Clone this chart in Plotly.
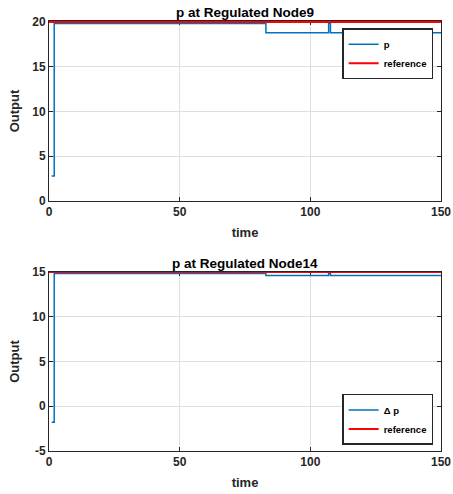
import plotly.graph_objects as go

# Data
t_p9 = [1, 2, 83, 107, 107.7, 150]
p_p9 = [2.8, 19.83, 18.8, 19.83, 18.8, 18.8]
t_ref = [0, 150]
ref_p9 = [20, 20]

t_p14 = [1, 2, 83, 107, 107.7, 150]
p_p14 = [-1.8, 14.83, 14.6, 14.83, 14.6, 14.6]
ref_p14 = [15, 15]

x_ticks = [0, 50, 100, 150]
x_labels = ["0", "50", "100", "150"]
y_ticks_top = [0, 5, 10, 15, 20]
y_labels_top = ["0", "5", "10", "15", "20"]
y_ticks_bot = [-5, 0, 5, 10, 15]
y_labels_bot = ["-5", "0", "5", "10", "15"]

BLUE = "#0072BD"
RED = "#FF0000"
DARK = "#262626"
FAM = "Liberation Sans, Arial, sans-serif"
FONT = dict(family=FAM, size=12, color=DARK, weight="bold")
TFONT = dict(family=FAM, size=13, color=DARK, weight="bold")
HFONT = dict(family=FAM, size=13.5, color="black", weight="bold")
LFONT = dict(family=FAM, size=9.5, color="black", weight="bold")

fig = go.Figure()
fig.add_trace(go.Scatter(x=t_p9, y=p_p9, mode="lines", line=dict(color=BLUE, width=1.5, shape="hv"),
                         name="p", xaxis="x", yaxis="y", legend="legend"))
fig.add_trace(go.Scatter(x=t_ref, y=ref_p9, mode="lines", line=dict(color=RED, width=2),
                         name="reference", xaxis="x", yaxis="y", legend="legend"))
fig.add_trace(go.Scatter(x=t_p14, y=p_p14, mode="lines", line=dict(color=BLUE, width=1.5, shape="hv"),
                         name="Δ p", xaxis="x2", yaxis="y2", legend="legend2"))
fig.add_trace(go.Scatter(x=t_ref, y=ref_p14, mode="lines", line=dict(color=RED, width=2),
                         name="reference", xaxis="x2", yaxis="y2", legend="legend2"))

axis_common = dict(showline=True, mirror="ticks", linecolor=DARK, linewidth=1, ticks="inside",
                   ticklen=4, tickcolor=DARK, showgrid=True, gridcolor="#DFDFDF", gridwidth=1,
                   zeroline=False, tickfont=FONT, automargin=False, layer="below traces")

top_dom = [(451 - 201) / 430, 1.0]
bot_dom = [0.0, (451 - 272) / 430]

fig.update_layout(
    width=453, height=494,
    margin=dict(l=49, r=12, t=21, b=43),
    paper_bgcolor="white", plot_bgcolor="white",
    font=FONT,
    showlegend=True,
    xaxis=dict(domain=[0, 1], range=[0, 150], tickvals=x_ticks, ticktext=x_labels, anchor="y",
               title=dict(text="time", font=TFONT, standoff=9), **axis_common),
    yaxis=dict(domain=top_dom, range=[0, 20.12], tickvals=y_ticks_top, ticktext=y_labels_top, anchor="x",
               title=dict(text="Output", font=TFONT, standoff=9), **axis_common),
    xaxis2=dict(domain=[0, 1], range=[0, 150], tickvals=x_ticks, ticktext=x_labels, anchor="y2",
                title=dict(text="time", font=TFONT, standoff=9), **axis_common),
    yaxis2=dict(domain=bot_dom, range=[-5, 15], tickvals=y_ticks_bot, ticktext=y_labels_bot, anchor="x2",
                title=dict(text="Output", font=TFONT, standoff=9), **axis_common),
    legend=dict(x=0.98, y=0.983, xanchor="right", yanchor="top", bgcolor="white",
                bordercolor=DARK, borderwidth=1.5, font=LFONT,
                tracegroupgap=0, itemwidth=30, traceorder="normal"),
    legend2=dict(x=0.98, y=0.014, xanchor="right", yanchor="bottom", bgcolor="white",
                 bordercolor=DARK, borderwidth=1.5, font=LFONT,
                 tracegroupgap=0, itemwidth=30, traceorder="normal"),
    annotations=[
        dict(text="p at Regulated Node9", x=0.5, y=1.0, xref="paper", yref="paper",
             xanchor="center", yanchor="bottom", showarrow=False, yshift=-1, font=HFONT),
        dict(text="p at Regulated Node14", x=0.5, y=bot_dom[1], xref="paper", yref="paper",
             xanchor="center", yanchor="bottom", showarrow=False, yshift=-1, font=HFONT),
    ],
)

fig.write_html("out.html")
